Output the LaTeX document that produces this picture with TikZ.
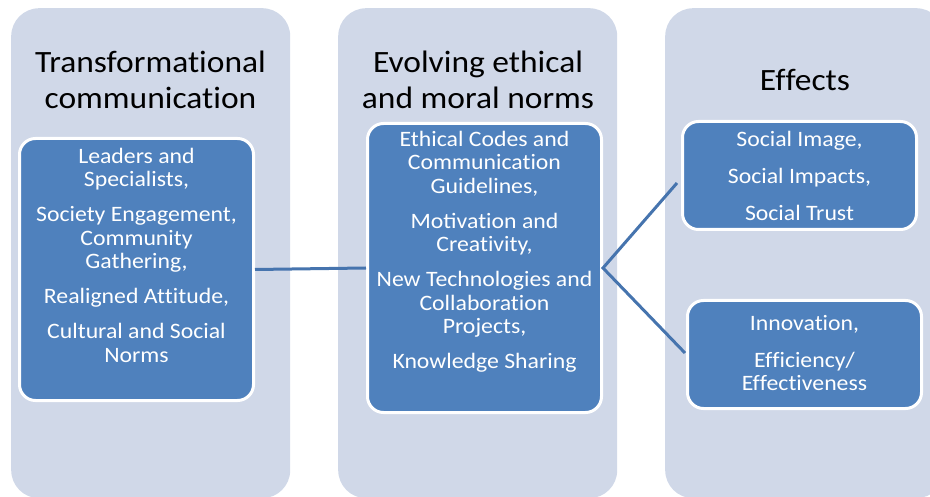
\documentclass[tikz,border=0pt]{standalone}
\usepackage{fontspec}
\setmainfont[FakeStretch=1.08]{Carlito}
\newcommand\zk{\kern0pt }
\definecolor{colbg}{HTML}{D0D8E8}
\definecolor{boxbg}{HTML}{4F81BD}
\definecolor{linec}{HTML}{4674AE}
\begin{document}
\begin{tikzpicture}[x=1pt,y=-1pt,
  colbox/.style={fill=colbg, rounded corners=28pt, minimum width=279pt, minimum height=490pt, anchor=north west, inner sep=0pt},
  itembox/.style={fill=boxbg, draw=white, line width=3pt, rounded corners=16pt, minimum width=234pt, inner sep=0pt},
  titletext/.style={anchor=north, align=center, inner sep=0pt, text=black, font=\fontsize{31}{36}\selectfont},
  itemtext/.style={anchor=north, align=center, inner sep=0pt, text=white, font=\fontsize{22}{23.5}\selectfont},
  conn/.style={draw=linec, line width=3pt}]
\useasboundingbox (0,0) rectangle (930,497);
% columns
\node[colbox] (c1) at (11,8) {};
\node[colbox] (c2) at (338,8) {};
\node[colbox] (c3) at (665,8) {};
% titles
\node[titletext] (t1) at (150.5,46.8) {\strut Transformat\zk ional\\communicat\zk ion};
\node[titletext] (t2) at (478,46.8) {\strut Evolving ethical\\and moral norms};
\node[titletext] (t3) at (805,64.8) {\strut Ef\zk fects};
% item boxes
\node[itembox, minimum height=262pt] (b1) at (136.5,269.5) {};
\node[itembox, minimum height=289pt] (b2) at (484.5,268) {};
\node[itembox, minimum height=108pt] (b3) at (799.5,175.5) {};
\node[itembox, minimum height=108pt] (b4) at (804.5,354.5) {};
% item texts
\node[itemtext] (x1) at (136.5,146.5) {\strut Leaders and\\Specialists,\\[11.5pt]Society Engagement,\\Community\\Gathering,\\[11.5pt]Realigned At\zk t\zk it\zk ude,\\[11.5pt]Cultural and Social\\Norms};
\node[itemtext] (x2) at (484.5,129.5) {\strut Ethical Codes and\\Communicat\zk ion\\Guidelines,\\[11.5pt]Motivat\zk ion and\\Creat\zk ivity,\\[11.5pt]New Technologies and\\Collaborat\zk ion\\Projects,\\[11.5pt]Knowledge Sharing};
\node[itemtext] (x3) at (799.5,129.5) {\strut Social Image,\\[13.5pt]Social Impacts,\\[13.5pt]Social Trust};
\node[itemtext] (x4) at (804.5,313.5) {\strut Innovat\zk ion,\\[13.5pt]Ef\zk f\zk iciency/\\Ef\zk fect\zk iveness};
% connectors
\coordinate (e1) at (677,183);
\coordinate (e2) at (685,353);
\draw[conn] (b1.east) -- (b2.west);
\draw[conn, line join=miter] (e1) -- (b2.east) -- (e2);
\end{tikzpicture}
\end{document}
